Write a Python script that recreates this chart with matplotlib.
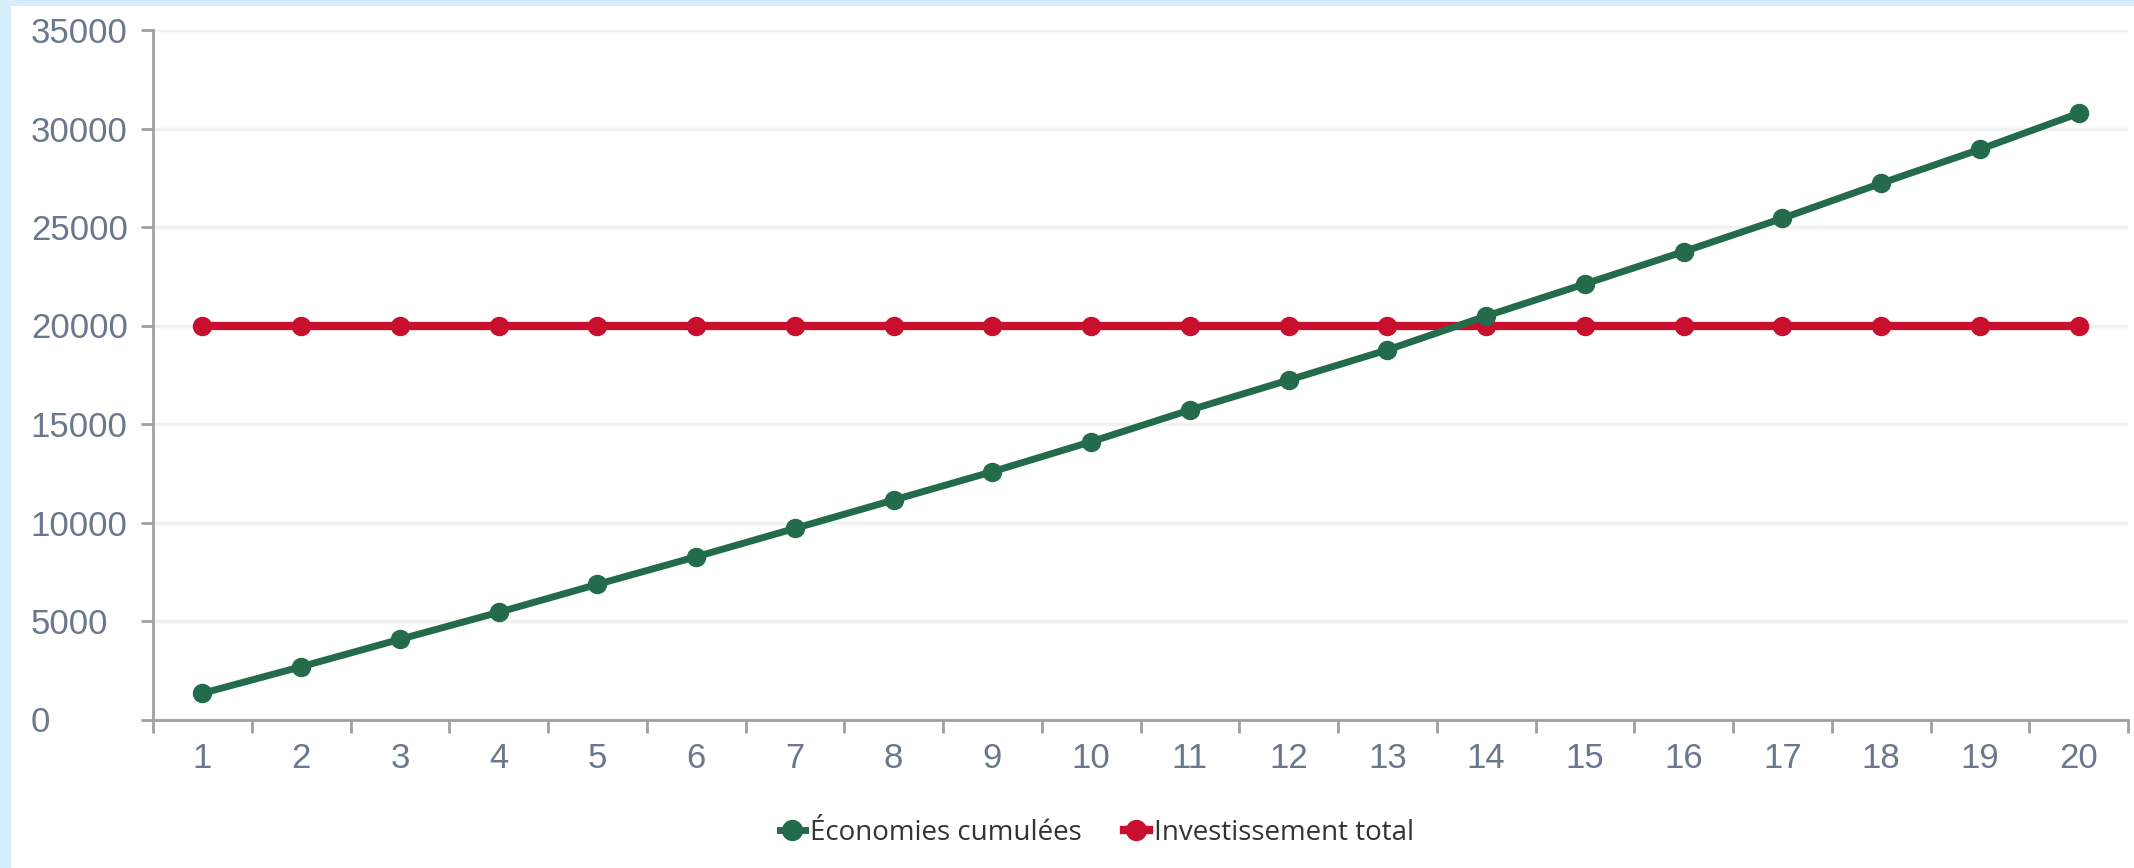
import matplotlib.pyplot as plt
from matplotlib.patches import Rectangle

# Data
annees = list(range(1, 21))
economies_cumulees = [1330, 2680, 4070, 5440, 6860, 8260, 9700, 11140, 12580, 14100,
                      15710, 17230, 18760, 20480, 22110, 23750, 25440, 27220, 28940, 30770]
investissement_total = [20000] * 20
y_ticks = [0, 5000, 10000, 15000, 20000, 25000, 30000, 35000]

vert = "#236b4b"
rouge = "#c8102e"
gris_axe = "#a0a0a0"
gris_texte = "#6b778d"

fig = plt.figure(figsize=(21.34, 8.68), dpi=100, facecolor="#d6edfb")
# white panel inside the light blue frame
fig.patches.append(Rectangle((11 / 2134, 0), 1, 1 - 6 / 868, transform=fig.transFigure,
                             facecolor="white", edgecolor="none", zorder=-1))

ax = fig.add_axes([153 / 2134, 1 - 719.5 / 868, (2128 - 153) / 2134, (719.5 - 30) / 868])
ax.set_facecolor("white")

ax.plot(annees, investissement_total, color=rouge, lw=6, marker="o", markersize=13,
        label="Investissement total", zorder=3)
ax.plot(annees, economies_cumulees, color=vert, lw=5, marker="o", markersize=13,
        label="Économies cumulées", zorder=4)

ax.set_xlim(0.5, 20.5)
ax.set_ylim(0, 35000)
ax.set_yticks(y_ticks)
ax.set_yticklabels([str(v) for v in y_ticks])
ax.set_xticks(annees)
ax.set_xticklabels([str(a) for a in annees])
ax.set_xticks([a + 0.5 for a in range(0, 21)], minor=True)

ax.grid(axis="y", color="#f1f1f1", lw=2.5, zorder=0)
ax.set_axisbelow(True)

for s in ["top", "right"]:
    ax.spines[s].set_visible(False)
for s in ["left", "bottom"]:
    ax.spines[s].set_color(gris_axe)
    ax.spines[s].set_linewidth(2)

# y labels are left aligned in the reference, starting near x=31 px
ax.tick_params(axis="y", length=9, width=2, color=gris_axe, labelcolor=gris_texte,
               labelsize=25, pad=79)
ax.tick_params(axis="x", which="major", length=0, labelcolor=gris_texte, labelsize=25, pad=16)
ax.tick_params(axis="x", which="minor", length=9, width=2, color=gris_axe)
for lab in ax.get_xticklabels() + ax.get_yticklabels():
    lab.set_fontfamily("Liberation Sans")
for lab in ax.get_yticklabels():
    lab.set_horizontalalignment("left")

handles, labels = ax.get_legend_handles_labels()
leg = fig.legend(handles[::-1], labels[::-1], loc="center", bbox_to_anchor=(1097 / 2134, 1 - 833 / 868),
                 ncol=2, frameon=False, handlelength=0.9, handletextpad=0.2, columnspacing=1.5,
                 prop={"family": "Open Sans", "size": 20}, markerscale=1.1)
for t in leg.get_texts():
    t.set_color("#333333")

fig.savefig("out.png", dpi=100, facecolor=fig.get_facecolor())
